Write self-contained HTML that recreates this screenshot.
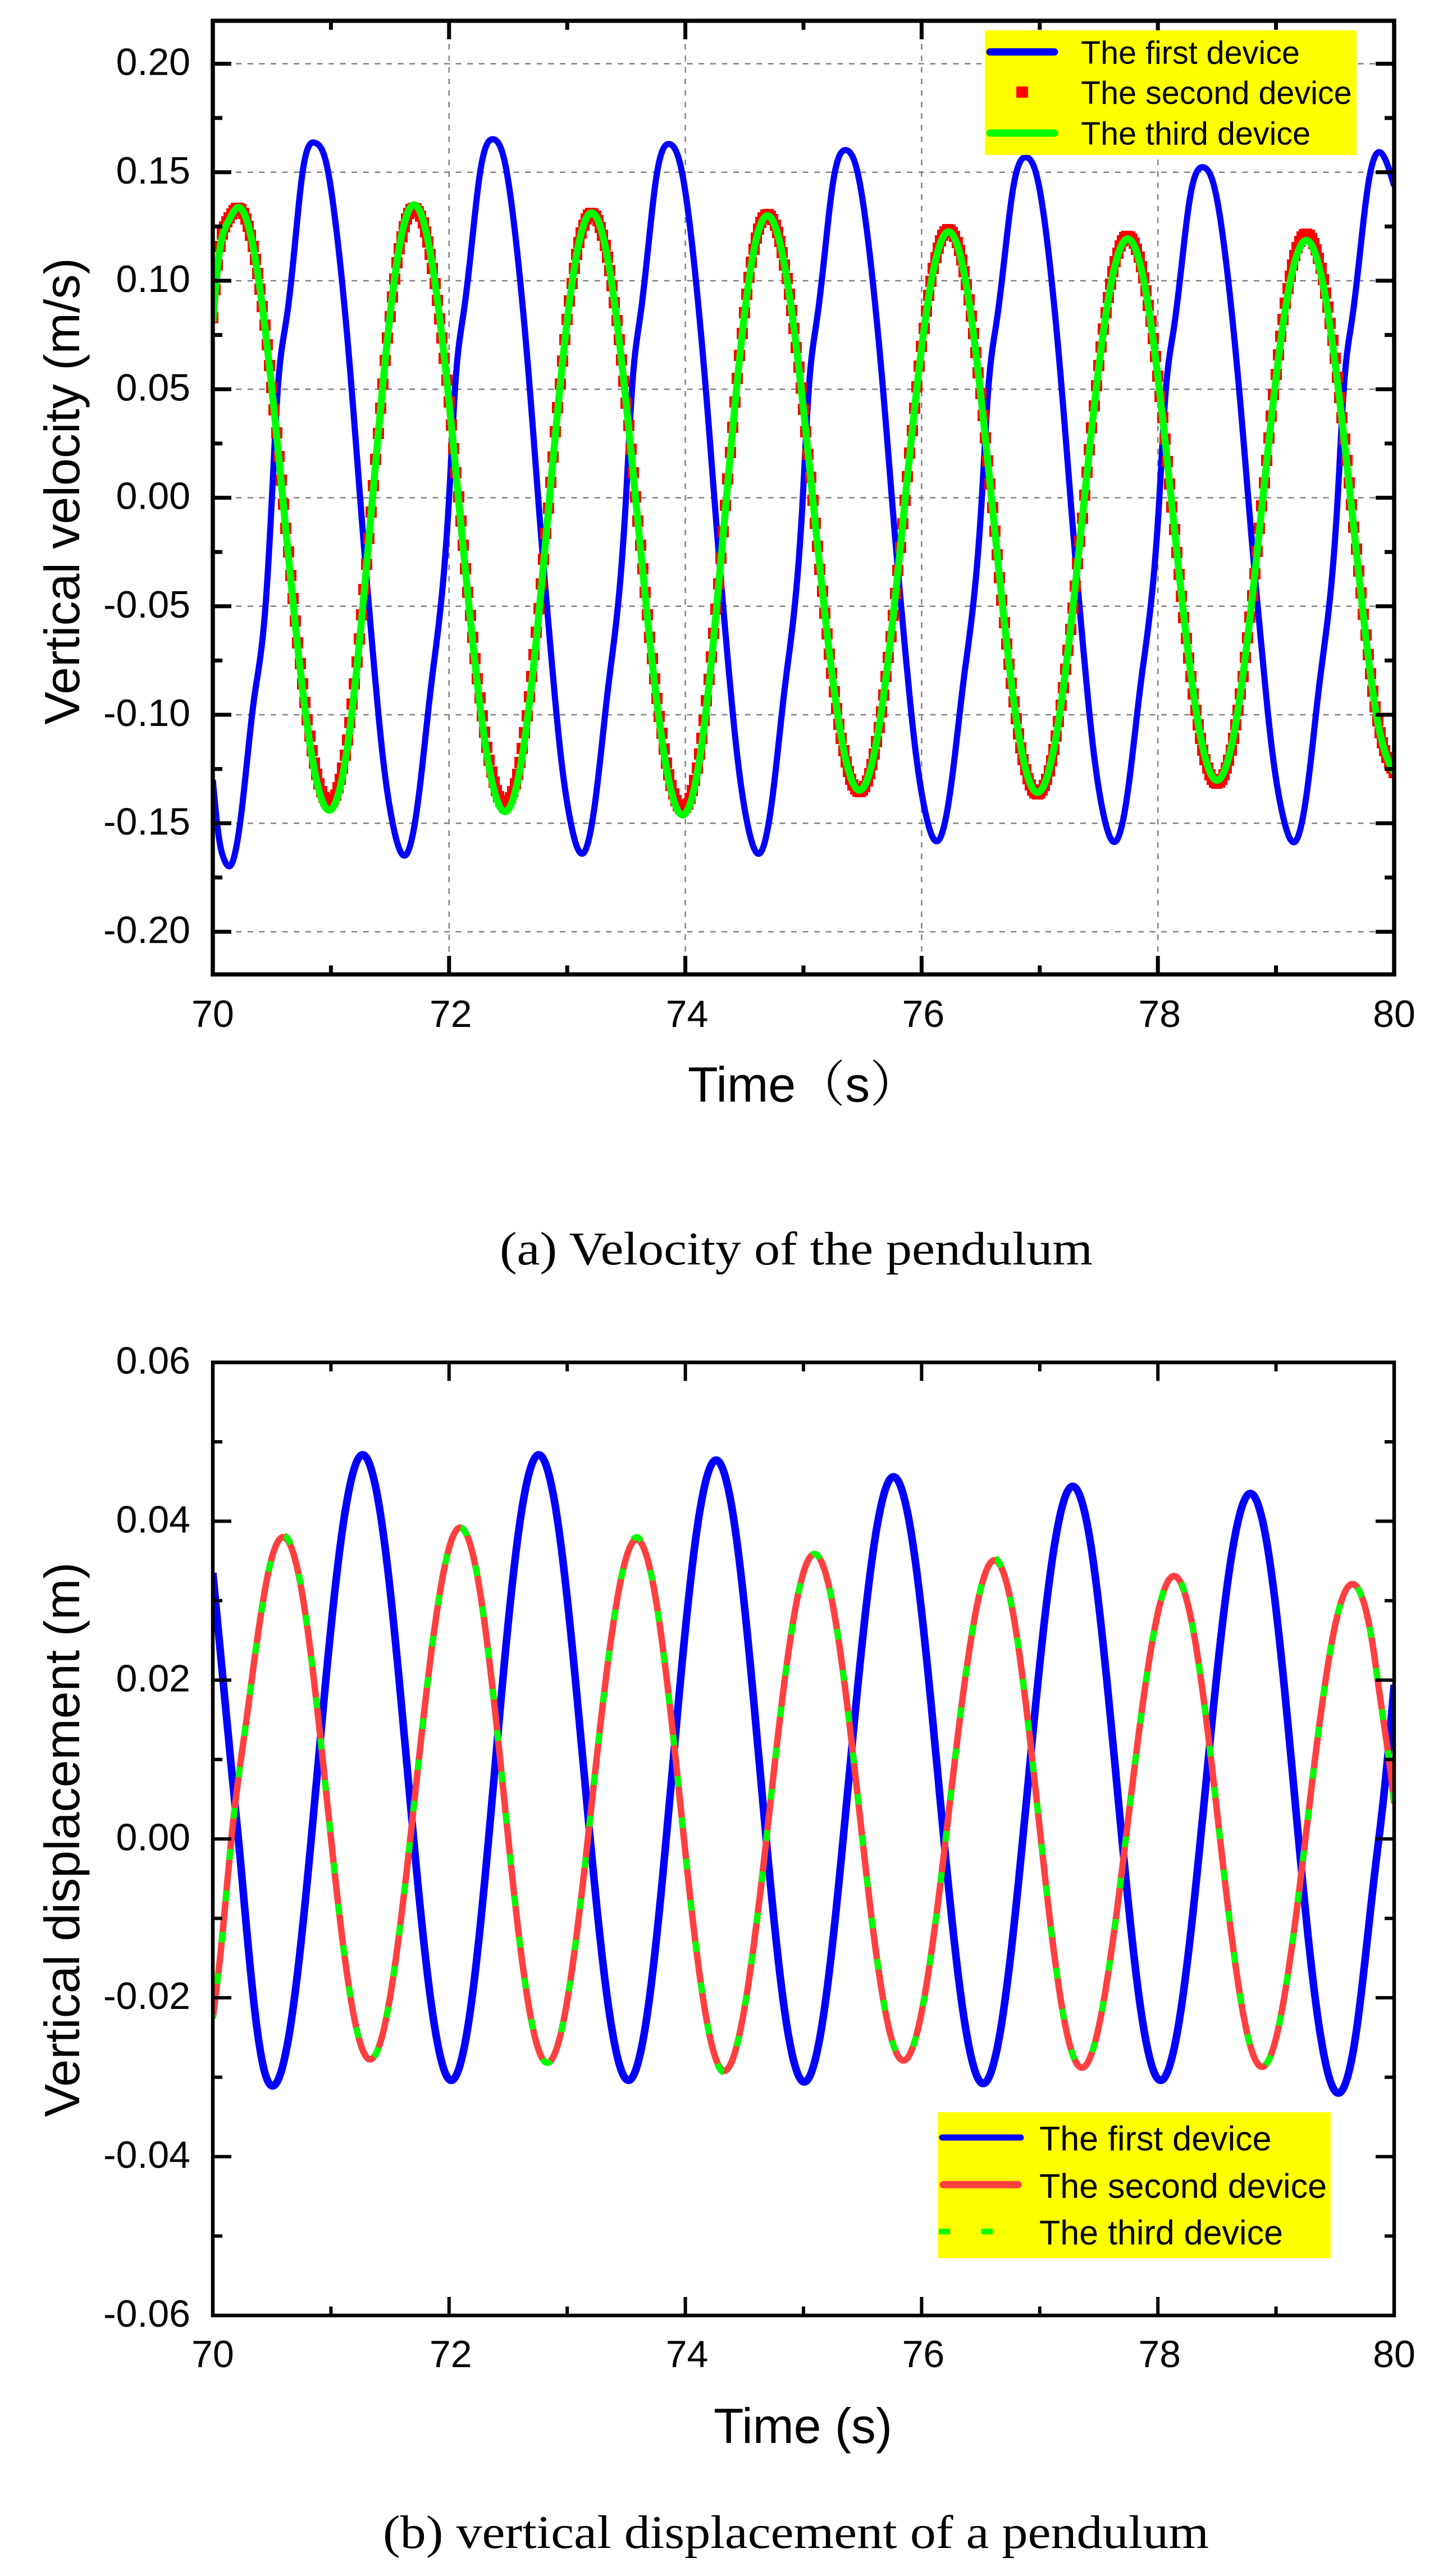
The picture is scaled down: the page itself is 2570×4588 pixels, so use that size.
<!DOCTYPE html>
<html lang="en">
<head>
<meta charset="utf-8">
<title>Velocity and vertical displacement of the pendulum</title>
<style>
html,body{margin:0;padding:0;background:#fff}
svg{display:block}
.tick-label{font-family:"Liberation Sans",Arial,sans-serif;font-size:68px;fill:#000}
.axis-title{font-family:"Liberation Sans","Noto Serif CJK SC",sans-serif;font-size:88px;fill:#000}
.caption{font-family:"Liberation Serif",serif;font-size:84px;fill:#000}
.leg-a{font-family:"Liberation Sans",sans-serif;font-size:57.5px;fill:#000}
.leg-b{font-family:"Liberation Sans",sans-serif;font-size:61px;fill:#000}
</style>
</head>
<body>
<svg id="figure" xmlns="http://www.w3.org/2000/svg" width="2570" height="4588" viewBox="0 0 2570 4588">
  <rect x="0" y="0" width="2570" height="4588" fill="#fff"/>
  <defs>
    <clipPath id="clip-a"><rect x="379" y="37" width="2104" height="1698"/></clipPath>
    <clipPath id="clip-b"><rect x="379" y="2426" width="2104" height="1698"/></clipPath>
  </defs>

  <g id="panel-a">
    <g id="grid-a"></g>
    <g id="series-a" clip-path="url(#clip-a)"></g>
    <g id="ticks-a"></g>
    <rect x="379" y="37" width="2104" height="1698.5" fill="none" stroke="#000" stroke-width="7.5"/>
    <text class="axis-title" transform="translate(141 875) rotate(-90)" text-anchor="middle">Vertical velocity (m/s)</text>
    <text class="axis-title" x="1225" y="1962">Time（s）</text>
    <g>
      <rect x="1754" y="54" width="662" height="222" fill="#ffff00"/>
      <line x1="1763" y1="92.5" x2="1878" y2="92.5" stroke="#0000ff" stroke-width="13" stroke-linecap="round"/>
      <rect x="1810" y="154" width="21" height="20" fill="#ff0000"/>
      <line x1="1763" y1="237" x2="1878" y2="237" stroke="#00ff00" stroke-width="13" stroke-linecap="round"/>
      <text class="leg-a" x="1925" y="113.5">The first device</text>
      <text class="leg-a" x="1925" y="185">The second device</text>
      <text class="leg-a" x="1925" y="257.5">The third device</text>
    </g>
    <text class="caption" x="890" y="2252" textLength="1056" lengthAdjust="spacingAndGlyphs">(a) Velocity of the pendulum</text>
  </g>

  <g id="panel-b">
    <g id="series-b" clip-path="url(#clip-b)"></g>
    <g id="ticks-b"></g>
    <rect x="379" y="2426.5" width="2104" height="1697.5" fill="none" stroke="#000" stroke-width="6.5"/>
    <text class="axis-title" transform="translate(141 3276.5) rotate(-90)" text-anchor="middle">Vertical displacement (m)</text>
    <text class="axis-title" x="1271" y="4351" textLength="318" lengthAdjust="spacingAndGlyphs">Time (s)</text>
    <g>
      <rect x="1670" y="3762" width="700" height="260" fill="#ffff00"/>
      <line x1="1678" y1="3807" x2="1818" y2="3807" stroke="#0000ff" stroke-width="11" stroke-linecap="round"/>
      <line x1="1680" y1="3891" x2="1813" y2="3891" stroke="#ff4040" stroke-width="13" stroke-linecap="round"/>
      <line x1="1672" y1="3974.5" x2="1692" y2="3974.5" stroke="#00ff00" stroke-width="10"/>
      <line x1="1748" y1="3974.5" x2="1768" y2="3974.5" stroke="#00ff00" stroke-width="10"/>
      <text class="leg-b" x="1851" y="3830">The first device</text>
      <text class="leg-b" x="1851" y="3914.5">The second device</text>
      <text class="leg-b" x="1851" y="3997.5">The third device</text>
    </g>
    <text class="caption" x="682" y="4538" textLength="1471" lengthAdjust="spacingAndGlyphs">(b) vertical displacement of a pendulum</text>
  </g>
</svg>

<script>
// ---- axis labels ----
const xTickLabels = ["70","72","74","76","78","80"];
const xMinorTicks = [71,73,75,77,79];
const velocityTickLabels = ["0.20","0.15","0.10","0.05","0.00","-0.05","-0.10","-0.15","-0.20"];
const velocityMinorTicks = [0.175,0.125,0.075,0.025,-0.025,-0.075,-0.125,-0.175];
const displacementTickLabels = ["0.06","0.04","0.02","0.00","-0.02","-0.04","-0.06"];
const displacementMinorTicks = [0.05,0.03,0.01,-0.01,-0.03,-0.05];

// ---- panel (a): vertical velocity, first device ----
const velFirstTime = [70,70.05,70.1,70.147,70.247,70.347,70.445,70.504,70.55,70.62,70.69,70.76,70.87,
70.957,71.036,71.115,71.19,71.27,71.35,71.43,71.53,71.64,
71.742,71.844,71.943,72.004,72.05,72.121,72.193,72.264,72.376,
72.463,72.542,72.621,72.696,72.775,72.855,72.935,73.035,73.145,
73.244,73.345,73.442,73.501,73.547,73.617,73.686,73.756,73.866,
73.953,74.033,74.112,74.188,74.268,74.348,74.429,74.529,74.64,
74.739,74.839,74.937,74.996,75.041,75.111,75.181,75.251,75.36,
75.449,75.53,75.611,75.688,75.769,75.851,75.933,76.035,76.148,
76.25,76.353,76.452,76.513,76.56,76.631,76.703,76.775,76.887,
76.973,77.052,77.13,77.204,77.283,77.362,77.442,77.541,77.65,
77.751,77.853,77.952,78.013,78.059,78.13,78.201,78.272,78.384,
78.473,78.554,78.634,78.711,78.792,78.874,78.955,79.058,79.17,
79.269,79.369,79.467,79.526,79.571,79.641,79.711,79.781,79.89,80];
const velFirst = [-0.13,-0.156,-0.1672,-0.1697,-0.143,-0.0937,-0.0507,0.004,0.05,0.081,0.114,0.15,0.1635,
0.155,0.128,0.088,0.04,-0.016,-0.068,-0.115,-0.152,-0.1643,
-0.138,-0.0885,-0.0424,0.0037,0.0499,0.0845,0.1174,0.1504,0.1652,
0.1567,0.1297,0.0893,0.0414,-0.0148,-0.0667,-0.1137,-0.1511,-0.1633,
-0.1372,-0.0883,-0.0426,0.0031,0.0488,0.0831,0.1157,0.1483,0.163,
0.1545,0.1278,0.0876,0.04,-0.0158,-0.0674,-0.114,-0.1512,-0.1633,
-0.1374,-0.0889,-0.0436,0.0017,0.047,0.081,0.1133,0.1456,0.1602,
0.1519,0.1259,0.0868,0.0404,-0.014,-0.0642,-0.1096,-0.1458,-0.1576,
-0.1324,-0.0853,-0.0412,0.0028,0.0468,0.0798,0.1113,0.1427,0.1569,
0.1487,0.1229,0.0842,0.0382,-0.0157,-0.0654,-0.1105,-0.1463,-0.158,
-0.1332,-0.0866,-0.0432,0.0003,0.0437,0.0763,0.1073,0.1383,0.1523,
0.1442,0.1188,0.0806,0.0353,-0.0177,-0.0668,-0.1111,-0.1465,-0.158,
-0.1326,-0.0851,-0.0407,0.0036,0.048,0.0813,0.113,0.1446,0.1589,0.1437];

// ---- panel (a): second and third device share sample times ----
const velOtherTime = [70,70.05,70.13,70.212,70.368,70.523,70.679,70.834,70.99,
71.132,71.274,71.416,71.558,71.7,71.855,72.01,72.165,72.32,72.475,
72.621,72.767,72.912,73.058,73.204,73.359,73.514,73.67,73.825,73.98,
74.122,74.264,74.406,74.548,74.69,74.847,75.004,75.161,75.318,75.475,
75.625,75.776,75.926,76.077,76.227,76.378,76.528,76.679,76.829,76.98,
77.133,77.286,77.439,77.592,77.745,77.896,78.047,78.198,78.349,78.5,
78.651,78.802,78.953,79.104,79.255,79.41,79.565,79.72,79.875,80];
const velSecond = [0.083,0.112,0.128,0.1335,0.1074,0.039,-0.046,-0.1145,-0.1405,
-0.1145,-0.0459,0.0389,0.1075,0.1335,0.1074,0.0388,-0.0463,-0.1149,-0.141,
-0.1152,-0.0472,0.0372,0.1051,0.131,0.1049,0.0363,-0.0488,-0.1174,-0.1435,
-0.1175,-0.049,0.036,0.1045,0.1305,0.1052,0.0387,-0.0437,-0.1102,-0.1355,
-0.1108,-0.0461,0.0341,0.0989,0.1235,0.0988,0.0338,-0.0468,-0.1118,-0.1365,
-0.1121,-0.0479,0.0318,0.0961,0.1205,0.0966,0.0335,-0.0445,-0.1076,-0.1315,
-0.1076,-0.0442,0.0342,0.0975,0.1215,0.0975,0.0344,-0.0439,-0.107,-0.1267];
const velThird = [0.081,0.1107,0.1272,0.1338,0.1074,0.038,-0.0482,-0.1176,-0.144,
-0.1175,-0.0477,0.0387,0.1085,0.135,0.1084,0.0385,-0.0482,-0.1181,-0.1447,
-0.1185,-0.0495,0.0361,0.1051,0.1313,0.1049,0.0356,-0.0505,-0.1198,-0.1462,
-0.12,-0.0509,0.0347,0.1038,0.13,0.1048,0.0386,-0.0434,-0.1096,-0.1348,
-0.1103,-0.046,0.0338,0.0982,0.1226,0.0981,0.0335,-0.0467,-0.1113,-0.1358,
-0.1116,-0.0478,0.0313,0.0951,0.1193,0.0956,0.0332,-0.0441,-0.1065,-0.1302,
-0.1066,-0.0444,0.0328,0.095,0.1186,0.0949,0.0325,-0.0449,-0.1073,-0.1267];

// ---- panel (b): vertical displacement, first device ----
const dispFirstTime = [70,70.09,70.17,70.21,70.347,70.425,70.504,
70.657,70.81,70.963,71.116,71.269,71.419,71.57,71.72,71.87,72.02,
72.167,72.315,72.462,72.61,72.757,72.91,73.062,73.215,73.367,73.52,
73.668,73.816,73.964,74.112,74.26,74.409,74.558,74.707,74.856,75.005,
75.157,75.308,75.46,75.612,75.763,75.914,76.066,76.217,76.369,76.52,
76.672,76.824,76.976,77.128,77.28,77.429,77.577,77.726,77.874,78.023,
78.175,78.328,78.48,78.633,78.785,78.933,79.081,79.229,79.377,79.525,
79.677,79.83,79.92,80];
const dispFirst = [0.0335,0.0195,0.007,0.001,-0.0205,-0.0285,-0.0311,
-0.0236,-0.0037,0.021,0.0408,0.04837,0.0409,0.0212,-0.0032,-0.0229,-0.0304,
-0.0229,-0.0032,0.0212,0.0409,0.04837,0.0409,0.0212,-0.0032,-0.0229,-0.0304,
-0.023,-0.0035,0.0208,0.0403,0.0477,0.0403,0.0207,-0.0036,-0.0232,-0.0306,
-0.0234,-0.0043,0.0193,0.0384,0.0456,0.0383,0.0192,-0.0044,-0.0235,-0.0308,
-0.0237,-0.0049,0.0185,0.0373,0.0444,0.0373,0.0186,-0.0046,-0.0233,-0.0304,
-0.0234,-0.0049,0.018,0.0365,0.0435,0.0363,0.0175,-0.006,-0.0248,-0.032,
-0.0245,-0.005,0.0065,0.0194];

// ---- panel (b): second and third device share sample times ----
const dispOtherTime = [70,70.08,70.157,70.28,70.373,70.496,70.6,
70.746,70.892,71.038,71.184,71.33,71.483,71.636,71.79,71.943,72.096,
72.243,72.39,72.536,72.683,72.83,72.982,73.134,73.286,73.438,73.59,
73.737,73.885,74.032,74.18,74.327,74.48,74.634,74.787,74.94,75.094,
75.244,75.394,75.544,75.694,75.844,75.999,76.154,76.31,76.465,76.62,
76.767,76.913,77.06,77.206,77.353,77.51,77.667,77.825,77.982,78.14,
78.288,78.436,78.584,78.732,78.88,79.033,79.186,79.339,79.492,79.645,
79.75,79.82,79.87,79.92,79.97,80];
const dispSecond = [-0.0226,-0.0123,0,0.01446,0.0248,0.0352,0.038,
0.0318,0.0153,-0.0051,-0.0215,-0.02776,-0.0214,-0.0047,0.0161,0.0328,0.0392,
0.0328,0.016,-0.0049,-0.0218,-0.02817,-0.0219,-0.0054,0.015,0.0314,0.0377,
0.0313,0.0146,-0.0061,-0.0228,-0.0292,-0.023,-0.0068,0.0134,0.0297,0.03587,
0.0298,0.0139,-0.0059,-0.0218,-0.0279,-0.0219,-0.0062,0.0134,0.0291,0.0351,
0.029,0.0131,-0.0068,-0.0227,-0.0288,-0.0229,-0.0074,0.0117,0.0272,0.0331,
0.0272,0.0118,-0.0074,-0.0228,-0.0287,-0.0229,-0.0077,0.0111,0.0263,0.0321,
0.0294,0.0243,0.019,0.0138,0.0084,0.0045];
const dispThird = [-0.0226,-0.0123,0,0.01446,0.0248,0.0352,0.0382,
0.0319,0.0153,-0.0051,-0.0215,-0.0278,-0.0214,-0.0047,0.0161,0.0328,0.0392,
0.0328,0.016,-0.0049,-0.0218,-0.0282,-0.0219,-0.0054,0.015,0.0314,0.038,
0.0313,0.0146,-0.0061,-0.0228,-0.0294,-0.023,-0.0068,0.0134,0.0297,0.0359,
0.0298,0.0139,-0.0059,-0.0218,-0.0279,-0.0219,-0.0062,0.0134,0.0291,0.0353,
0.029,0.0131,-0.0068,-0.0227,-0.0288,-0.0229,-0.0074,0.0117,0.0272,0.0333,
0.0272,0.0118,-0.0074,-0.0228,-0.0287,-0.0229,-0.0077,0.0111,0.0263,0.0321,
0.0294,0.0243,0.019,0.0138,0.0084,0.0045];

// ---- axis functions ----
const NS = "http://www.w3.org/2000/svg";
function xScale(t){ return 379 + (t - 70) * 210.4; }
function yVel(v){ return 886.5 - v * 3865; }
function yDisp(v){ return 3275.25 - v * 14146; }

function make(tag, parent, attrs){
  const el = document.createElementNS(NS, tag);
  for (const k in attrs) el.setAttribute(k, attrs[k]);
  parent.appendChild(el);
  return el;
}

// Natural cubic spline through the read-off samples (rendering only).
function curve(ts, vs){
  const n = ts.length, a = new Array(n).fill(0), c = new Array(n).fill(0), y2 = new Array(n).fill(0);
  for (let i = 1; i < n - 1; i++){
    const sig = (ts[i] - ts[i-1]) / (ts[i+1] - ts[i-1]);
    const p = sig * a[i-1] + 2;
    a[i] = (sig - 1) / p;
    const r = (vs[i+1] - vs[i]) / (ts[i+1] - ts[i]) - (vs[i] - vs[i-1]) / (ts[i] - ts[i-1]);
    c[i] = (6 * r / (ts[i+1] - ts[i-1]) - sig * c[i-1]) / p;
  }
  for (let i = n - 2; i >= 0; i--) y2[i] = a[i] * y2[i+1] + c[i];
  return function(t){
    let i = 0;
    while (i < n - 2 && t > ts[i+1]) i++;
    const h = ts[i+1] - ts[i], A = (ts[i+1] - t) / h, B = (t - ts[i]) / h;
    return A * vs[i] + B * vs[i+1] + ((A*A*A - A) * y2[i] + (B*B*B - B) * y2[i+1]) * h * h / 6;
  };
}

function linePath(ts, vs, yScale){
  const f = curve(ts, vs);
  let d = "";
  for (let k = 0; k <= 1000; k++){
    const t = 70 + k * 0.01;
    d += (k ? "L" : "M") + xScale(t).toFixed(1) + " " + yScale(f(t)).toFixed(1);
  }
  return d;
}

function squarePath(ts, vs, yScale){
  const f = curve(ts, vs);
  let d = "";
  for (let k = 0; k <= 500; k++){
    const t = 70 + k * 0.02;
    d += "M" + Math.round(xScale(t) - 10) + " " + Math.round(yScale(f(t)) - 10) + "h20v20h-20z";
  }
  return d;
}

// ---- panel (a) grid ----
const gridA = document.getElementById("grid-a");
velocityTickLabels.forEach(function(label){
  const y = yVel(parseFloat(label));
  const g = make("line", gridA, {x1:379, x2:2483, y1:y, y2:y, stroke:"#808080", "stroke-width":2.5, "stroke-dasharray":"10 10.6"});
  
  
});
xTickLabels.slice(1, -1).forEach(function(label){
  const x = xScale(parseFloat(label));
  const g = make("line", gridA, {x1:x, x2:x, y1:37, y2:1735, stroke:"#808080", "stroke-width":2.5, "stroke-dasharray":"10 10.6"});
  
  
});

// ---- panel (a) series ----
const seriesA = document.getElementById("series-a");
const a1 = make("path", seriesA, {d:linePath(velFirstTime, velFirst, yVel), fill:"none", stroke:"#0000ff", "stroke-width":11, "stroke-linejoin":"round"});


const a2 = make("path", seriesA, {d:squarePath(velOtherTime, velSecond, yVel), fill:"#ff0000", "shape-rendering":"crispEdges"});


const a3 = make("path", seriesA, {d:linePath(velOtherTime, velThird, yVel), fill:"none", stroke:"#00ff00", "stroke-width":12.5, "stroke-linejoin":"round"});



// ---- panel (b) series ----
const seriesB = document.getElementById("series-b");
const b1 = make("path", seriesB, {d:linePath(dispFirstTime, dispFirst, yDisp), fill:"none", stroke:"#0000ff", "stroke-width":13.5, "stroke-linejoin":"round"});


const b2 = make("path", seriesB, {d:linePath(dispOtherTime, dispSecond, yDisp), fill:"none", stroke:"#ff4040", "stroke-width":11.5, "stroke-linejoin":"round"});


const b3 = make("path", seriesB, {d:linePath(dispOtherTime, dispThird, yDisp), fill:"none", stroke:"#00ff00", "stroke-width":11, "stroke-dasharray":"19 55", "stroke-dashoffset":"12"});



// ---- ticks and labels ----
function drawTicks(groupId, yScale, yLabels, yMinors, top, bottom, baselineX, width){
  const g = document.getElementById(groupId);
  xTickLabels.forEach(function(label){
    const t = parseFloat(label), x = xScale(t);
    if (t > 70 && t < 80){
      const m1 = make("line", g, {x1:x, x2:x, y1:bottom, y2:bottom - 33, stroke:"#000", "stroke-width":width});
      
      
      const m2 = make("line", g, {x1:x, x2:x, y1:top, y2:top + 33, stroke:"#000", "stroke-width":width});
      
      
    }
    const tx = make("text", g, {x:x + (t > 70 && t < 80 ? 3 : 0), y:baselineX, "text-anchor":"middle", "class":"tick-label"});
    
    
    tx.textContent = label;
  });
  xMinorTicks.forEach(function(t){
    const x = xScale(t);
    const m1 = make("line", g, {x1:x, x2:x, y1:bottom, y2:bottom - 16, stroke:"#000", "stroke-width":width});
    
    
    const m2 = make("line", g, {x1:x, x2:x, y1:top, y2:top + 16, stroke:"#000", "stroke-width":width});
    
    
  });
  yLabels.forEach(function(label){
    const y = yScale(parseFloat(label));
    const m1 = make("line", g, {x1:379, x2:412, y1:y, y2:y, stroke:"#000", "stroke-width":width});
    
    
    const m2 = make("line", g, {x1:2483, x2:2450, y1:y, y2:y, stroke:"#000", "stroke-width":width});
    
    
    const tx = make("text", g, {x:339, y:y + 20, "text-anchor":"end", "class":"tick-label"});
    
    
    tx.textContent = label;
  });
  yMinors.forEach(function(v){
    const y = yScale(v);
    const m1 = make("line", g, {x1:379, x2:396, y1:y, y2:y, stroke:"#000", "stroke-width":width});
    
    
    const m2 = make("line", g, {x1:2483, x2:2466, y1:y, y2:y, stroke:"#000", "stroke-width":width});
    
    
  });
}
drawTicks("ticks-a", yVel, velocityTickLabels, velocityMinorTicks, 37, 1735.5, 1829, 7);
drawTicks("ticks-b", yDisp, displacementTickLabels, displacementMinorTicks, 2426.5, 4124, 4216, 6);
</script>
</body>
</html>
